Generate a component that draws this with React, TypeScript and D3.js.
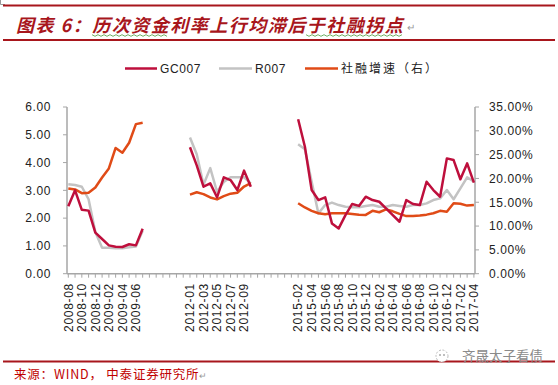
import React from "react";
import * as d3 from "d3";

const categories: string[] = [
  "2008-08","2008-09","2008-10","2008-11","2008-12","2009-01","2009-02","2009-03","2009-04","2009-05","2009-06","2009-07",
  "","","","","","",
  "2012-01","2012-02","2012-03","2012-04","2012-05","2012-06","2012-07","2012-08","2012-09","2012-10",
  "","","","","","",
  "2015-02","2015-03","2015-04","2015-05","2015-06","2015-07","2015-08","2015-09","2015-10","2015-11","2015-12",
  "2016-01","2016-02","2016-03","2016-04","2016-05","2016-06","2016-07","2016-08","2016-09","2016-10","2016-11","2016-12",
  "2017-01","2017-02","2017-03","2017-04",
];

const N = null;
const gc007: (number | null)[] = [
  2.43, 3.0, 2.3, 2.27, 1.48, 1.25, 1.02, 0.97, 0.96, 1.06, 1.02, 1.62,
  N, N, N, N, N, N,
  4.55, 3.9, 3.13, 3.25, 2.75, 3.47, 3.37, 3.01, 3.71, 3.13,
  N, N, N, N, N, N,
  5.56, 4.57, 3.01, 2.65, 2.75, 1.81, 1.63, 2.11, 2.51, 2.44, 2.77, 2.65, 2.59, 2.35, 2.11, 1.87, 2.65, 2.51, 2.47, 3.31, 3.01, 2.77, 4.15, 4.09, 3.4, 3.97, 3.28,
];
const r007: (number | null)[] = [
  3.22, 3.19, 3.13, 2.68, 1.5, 0.93, 0.93, 0.92, 0.92, 0.95, 0.98, 1.55,
  N, N, N, N, N, N,
  4.9, 4.3, 3.2, 3.8, 2.95, 3.3, 3.47, 3.47, 3.47, 3.25,
  N, N, N, N, N, N,
  4.66, 4.48, 3.31, 2.17, 2.47, 2.56, 2.47, 2.41, 2.39, 2.39, 2.44, 2.47, 2.41, 2.41, 2.47, 2.44, 2.41, 2.47, 2.47, 2.53, 2.65, 2.71, 3.01, 2.68, 3.07, 3.47, 3.31,
];
const tsfGrowth: (number | null)[] = [
  17.9, 17.7, 16.9, 17.0, 18.1, 20.2, 22.1, 26.4, 25.4, 27.5, 31.4, 31.7,
  N, N, N, N, N, N,
  16.6, 17.1, 16.7, 16.0, 15.6, 16.3, 16.8, 17.0, 18.3, 19.0,
  N, N, N, N, N, N,
  14.8, 13.9, 13.2, 12.7, 12.5, 12.7, 12.7, 12.7, 12.55, 12.4, 12.35, 13.2, 12.9, 13.5, 13.1, 12.55, 12.1, 12.1, 12.2, 12.4, 12.7, 13.2, 13.0, 14.8, 14.7, 14.3, 14.4,
];

const leftTicks = [0, 1, 2, 3, 4, 5, 6];
const rightTicks = [0, 5, 10, 15, 20, 25, 30, 35];
const legendLabels = ["GC007", "R007", "社融增速（右）"];

const RED = "#be0f3c";
const GRAY = "#c3c3c3";
const ORANGE = "#e04b17";
const DARK_RED = "#a8161c";
const AXIS = "#a6a6a6";
const NUM_FONT = "'Liberation Sans', Arial, sans-serif";
const CJK_FONT = "'Noto Sans CJK SC', sans-serif";

export default function App() {
  const W = 558, H = 385;
  const x = d3.scalePoint<number>().domain(d3.range(categories.length)).range([68.3, 473.9]);
  const yL = d3.scaleLinear().domain([0, 6]).range([273.7, 107]);
  const yR = d3.scaleLinear().domain([0, 35]).range([273.7, 107]);
  const axisLeftX = 67, axisRightX = 475, axisY = yL(0);

  const mkLine = (scale: d3.ScaleLinear<number, number>) =>
    d3.line<number | null>()
      .defined((d) => d !== null)
      .x((_, i) => x(i) as number)
      .y((d) => scale(d as number));

  const series = [
    { data: r007, color: GRAY, scale: yL },
    { data: tsfGrowth, color: ORANGE, scale: yR },
    { data: gc007, color: RED, scale: yL },
  ];

  const legendItems = [
    { label: legendLabels[0], color: RED, x1: 125, x2: 157, tx: 160, font: NUM_FONT },
    { label: legendLabels[1], color: GRAY, x1: 219, x2: 252, tx: 255, font: NUM_FONT },
    { label: legendLabels[2], color: ORANGE, x1: 305, x2: 338, tx: 341, font: CJK_FONT },
  ];

  const squiggle = (a: number, b: number) =>
    d3.range(a, b, 3).map((v, k) => `${k === 0 ? "M" : "L"}${v},${35.5 + (k % 2 ? 1 : -1) * 0.8}`).join("");

  return (
    <svg width={W} height={H} style={{ position: "absolute", left: 0, top: 0, background: "#fff" }}>
      <rect x={0} y={0} width={W} height={H} fill="#fff" />
      {/* corner mark */}
      <path d="M0.5,0 V4.5 H5" fill="none" stroke="#999" strokeWidth={1} />
      {/* title block */}
      <line x1={3} x2={555} y1={5.5} y2={5.5} stroke={DARK_RED} strokeWidth={2} />
      <text x={16} y={32} fill={DARK_RED} fontFamily={CJK_FONT} fontSize={18} fontWeight="bold" fontStyle="italic" letterSpacing={1.5}>
        图表 6：历次资金利率上行均滞后于社融拐点
      </text>
      <text x={407} y={31} fill="#999" fontFamily={CJK_FONT} fontSize={10}>↵</text>
      <path d={squiggle(92, 168)} fill="none" stroke="#4a9a3c" strokeWidth={0.8} />
      <path d={squiggle(306, 405)} fill="none" stroke="#4a9a3c" strokeWidth={0.8} />
      <line x1={3} x2={555} y1={40} y2={40} stroke={DARK_RED} strokeWidth={2} />

      {/* legend */}
      {legendItems.map((l) => (
        <g key={l.label}>
          <line x1={l.x1} x2={l.x2} y1={68.5} y2={68.5} stroke={l.color} strokeWidth={2.5} />
          <text x={l.tx} y={72.5} fontFamily={l.font} fontSize={12} letterSpacing={l.font === CJK_FONT ? 2 : 0.6} fill="#222">{l.label}</text>
        </g>
      ))}

      {/* axes */}
      <line x1={axisLeftX} x2={axisLeftX} y1={yL(6)} y2={axisY} stroke={AXIS} strokeWidth={1.5} />
      <line x1={axisRightX} x2={axisRightX} y1={yR(35)} y2={axisY} stroke={AXIS} strokeWidth={1.5} />
      <line x1={axisLeftX} x2={axisRightX} y1={axisY} y2={axisY} stroke={AXIS} strokeWidth={1.5} />
      {leftTicks.map((t) => (
        <g key={"l" + t}>
          <line x1={axisLeftX - 4} x2={axisLeftX} y1={yL(t)} y2={yL(t)} stroke={AXIS} strokeWidth={1} />
          <text x={51} y={yL(t)} dy="0.36em" textAnchor="end" fontFamily={NUM_FONT} fontSize={12} letterSpacing={0.6} fill="#222">
            {d3.format(".2f")(t)}
          </text>
        </g>
      ))}
      {rightTicks.map((t) => (
        <g key={"r" + t}>
          <line x1={axisRightX} x2={axisRightX + 4} y1={yR(t)} y2={yR(t)} stroke={AXIS} strokeWidth={1} />
          <text x={489} y={yR(t)} dy="0.36em" textAnchor="start" fontFamily={NUM_FONT} fontSize={12} letterSpacing={0.6} fill="#222">
            {d3.format(".2f")(t) + "%"}
          </text>
        </g>
      ))}
      {categories.map((c, i) => (
        <line key={"t" + i} x1={x(i)} x2={x(i)} y1={axisY} y2={axisY + 4} stroke={AXIS} strokeWidth={1} />
      ))}
      {categories.map((c, i) =>
        i % 2 === 0 && c ? (
          <text key={"c" + i} transform={`translate(${x(i)},${283}) rotate(-90)`} textAnchor="end" dy="0.36em"
            fontFamily={NUM_FONT} fontSize={12} letterSpacing={0.7} fill="#222">{c}</text>
        ) : null
      )}

      {/* series */}
      {series.map((s, k) => (
        <path key={k} d={mkLine(s.scale)(s.data) || ""} fill="none" stroke={s.color} strokeWidth={2.5} strokeLinejoin="round" />
      ))}

      {/* footer */}
      <line x1={3} x2={555} y1={361.5} y2={361.5} stroke={DARK_RED} strokeWidth={2} />
      <circle cx={442} cy={356} r={6} fill="#fff" stroke="#aaa" strokeWidth={0.8} strokeDasharray="2,1.5" />
      <circle cx={440} cy={355} r={1} fill="#aaa" />
      <circle cx={444} cy={355} r={1} fill="#aaa" />
      <text x={462} y={361} fontFamily={CJK_FONT} fontSize={13.5} fill="#8a8a8a">齐晟太子看债</text>
      <text x={14} y={379} fontFamily={CJK_FONT} fontSize={12.5} letterSpacing={0.8} fill="#c00000">来源：WIND，  中泰证券研究所</text>
      <text x={199} y={379} fill="#999" fontFamily={CJK_FONT} fontSize={9}>↵</text>
    </svg>
  );
}
